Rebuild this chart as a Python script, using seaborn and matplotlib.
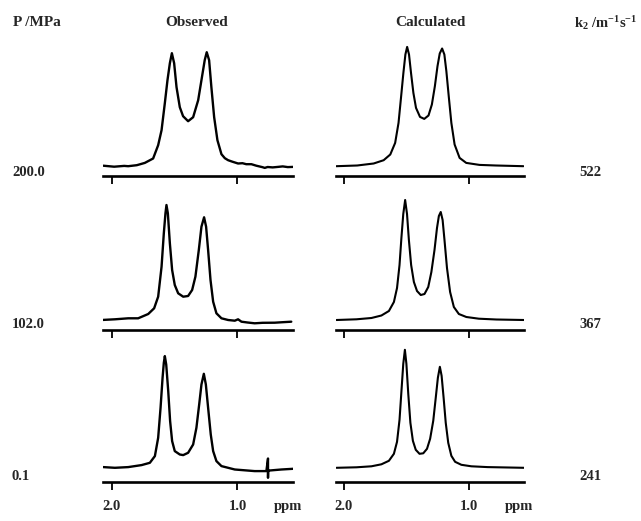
import matplotlib
matplotlib.use("Agg")
import matplotlib.pyplot as plt
import seaborn as sns

# Row labels / column titles
pressures = ["200.0", "102.0", "0.1"]
k2_values = ["522", "367", "241"]
col_titles = ["Observed", "Calculated"]
ppm_ticks = [2.0, 1.0]
ppm_tick_labels = ["2.0", "1.0"]

# Observed spectra (ppm, intensity)
obs_200_ppm = [2.066, 1.98, 1.90, 1.868, 1.80, 1.736, 1.670, 1.630, 1.603, 1.577, 1.556, 1.537,
               1.521, 1.503, 1.484, 1.458, 1.432, 1.392, 1.352, 1.312, 1.286, 1.260, 1.244,
               1.225, 1.207, 1.185, 1.159, 1.127, 1.100, 1.074, 1.040, 0.995, 0.960, 0.930,
               0.889, 0.850, 0.800, 0.783, 0.760, 0.720, 0.678, 0.640, 0.600, 0.559]
obs_200_int = [0.5, -0.5, 0.3, 0.0, 1.0, 3.3, 7.7, 21, 36, 63, 86, 103,
               113, 103, 79, 59, 50, 45, 49, 66, 86, 106, 114,
               106, 79, 49, 26, 12, 8, 6, 4.5, 2.7, 3.0, 2.0,
               2.0, 0.5, -1.0, -1.7, -0.8, -1.2, -0.7, -0.2, -0.9, -0.7]

obs_102_ppm = [2.080, 2.02, 1.974, 1.92, 1.868, 1.789, 1.709, 1.662, 1.630, 1.603, 1.585, 1.572,
               1.564, 1.553, 1.537, 1.519, 1.498, 1.471, 1.431, 1.392, 1.360, 1.334, 1.307,
               1.286, 1.265, 1.249, 1.233, 1.214, 1.193, 1.167, 1.127, 1.074, 1.021, 0.995,
               0.968, 0.920, 0.863, 0.800, 0.704, 0.640, 0.572]
obs_102_int = [0.0, 0.4, 0.7, 1.2, 1.7, 1.7, 6, 11.7, 23.3, 53.3, 86.7, 106.7,
               115, 106.7, 76.7, 50, 35, 26.7, 23.3, 24, 30, 43.3, 70,
               93.3, 102.7, 93.3, 70, 40, 18.3, 6.7, 1.7, 0.0, -0.7, 0.7,
               -1.7, -2.5, -3.3, -2.8, -2.7, -2.2, -1.7]

obs_01_ppm = [2.066, 1.974, 1.868, 1.762, 1.696, 1.656, 1.630, 1.611, 1.595, 1.585, 1.577,
              1.566, 1.550, 1.535, 1.519, 1.498, 1.458, 1.431, 1.392, 1.352, 1.326, 1.304,
              1.286, 1.267, 1.251, 1.233, 1.212, 1.193, 1.167, 1.127, 1.021, 0.863, 0.770,
              0.757, 0.757, 0.756, 0.744, 0.651, 0.558]
obs_01_int = [0.7, 0.0, 0.7, 2.7, 5, 11.7, 30, 60, 90, 105, 111.7,
              103.3, 76.7, 46.7, 26.7, 16.7, 13.3, 12.7, 15, 23.3, 40, 63.3,
              83.3, 94, 83.3, 60, 33.3, 16.7, 6.7, 1.7, -1.7, -3.3, -3.3,
              9.3, -10, -2.7, -2.7, -1.7, -1.0]

# Calculated spectra (ppm, intensity)
calc_522_ppm = [2.061, 1.894, 1.762, 1.682, 1.629, 1.590, 1.563, 1.542, 1.524, 1.508, 1.494,
                1.479, 1.463, 1.444, 1.423, 1.391, 1.357, 1.323, 1.296, 1.272, 1.251, 1.233,
                1.214, 1.196, 1.180, 1.161, 1.140, 1.114, 1.074, 1.021, 0.915, 0.783, 0.563]
calc_522_int = [0, 0.7, 2.7, 6, 11.7, 23.3, 43.3, 70, 93.3, 111.7, 119.3,
                111.7, 93.3, 73.3, 58.3, 49.3, 47.3, 50.7, 61.7, 80, 100, 112.7,
                117.7, 111.7, 95, 70, 43.3, 21.7, 8.3, 3.3, 1.3, 0.7, 0]

calc_367_ppm = [2.06, 1.90, 1.78, 1.70, 1.64, 1.60, 1.575, 1.555, 1.540, 1.525, 1.510, 1.495,
                1.480, 1.462, 1.440, 1.415, 1.385, 1.355, 1.325, 1.300, 1.275, 1.255, 1.240,
                1.225, 1.210, 1.195, 1.175, 1.150, 1.120, 1.080, 1.020, 0.920, 0.780, 0.560]
calc_367_int = [0, 0.7, 2, 4.5, 9, 18, 32, 55, 82, 106, 120, 106,
                80, 55, 38, 29, 25, 26, 33, 48, 70, 92, 104,
                108, 100, 80, 52, 28, 13, 6, 3, 1.3, 0.5, 0]

calc_241_ppm = [2.06, 1.90, 1.78, 1.70, 1.64, 1.60, 1.575, 1.555, 1.540, 1.525, 1.512, 1.500,
                1.485, 1.468, 1.448, 1.425, 1.395, 1.365, 1.335, 1.310, 1.285, 1.265, 1.248,
                1.232, 1.218, 1.202, 1.185, 1.165, 1.140, 1.110, 1.060, 0.980, 0.850, 0.560]
calc_241_int = [0, 0.5, 1.5, 3.5, 7, 14, 26, 48, 76, 104, 118, 104,
                74, 45, 27, 18, 14, 14.5, 19, 29, 47, 70, 90,
                101, 92, 70, 45, 25, 12, 6, 3, 1.5, 0.7, 0]

observed = [(obs_200_ppm, obs_200_int), (obs_102_ppm, obs_102_int), (obs_01_ppm, obs_01_int)]
calculated = [(calc_522_ppm, calc_522_int), (calc_367_ppm, calc_367_int), (calc_241_ppm, calc_241_int)]

sns.set_style("white")
plt.rcParams['font.family'] = ['Liberation Serif', 'DejaVu Serif']
plt.rcParams['font.weight'] = 'bold'
plt.rcParams['mathtext.fontset'] = 'custom'
plt.rcParams['mathtext.rm'] = 'Liberation Serif:bold'
plt.rcParams['mathtext.bf'] = 'Liberation Serif:bold'
plt.rcParams['mathtext.it'] = 'Liberation Serif:bold'

W, H = 641, 521
fig = plt.figure(figsize=(W / 100, H / 100), dpi=100)

col_x = [(103.3, 190.0), (335.7, 188.6)]   # left, width in px
row_axis_y = [176.2, 330.0, 482.3]         # axis line position in px
row_gap = [10, 10, 14.5]                   # px between baseline and axis line
ax_h = 140


def fx(px):
    return px / W


def fy(py):
    return 1 - py / H


for r in range(3):
    for c, spectra in enumerate([observed, calculated]):
        left, width = col_x[c]
        ax = fig.add_axes([fx(left), fy(row_axis_y[r]), width / W, ax_h / H])
        x, y = spectra[r]
        sns.lineplot(x=x, y=y, ax=ax, color='black', sort=False, estimator=None,
                     linewidth=1.7 if c == 0 else 1.5)
        ax.set_xlim(2.066, 0.556)
        ax.set_ylim(-row_gap[r], ax_h - row_gap[r])
        for s in ['left', 'top', 'right']:
            ax.spines[s].set_visible(False)
        ax.spines['bottom'].set_linewidth(1.9)
        ax.spines['bottom'].set_color('black')
        ax.set_yticks([])
        ax.set_xticks(ppm_ticks)
        ax.tick_params(axis='x', direction='out', length=6, width=1.3, color='black',
                       bottom=True, pad=7, labelsize=10.5)
        ax.set_xlabel('')
        ax.set_ylabel('')
        if r == 2:
            ax.set_xticklabels(ppm_tick_labels, fontweight='bold')
            ax.annotate('ppm', xy=(0.6, 0), xycoords=('data', 'axes fraction'),
                        xytext=(0, -13), textcoords='offset points',
                        ha='center', va='top', fontsize=10.5, fontweight='bold')
        else:
            ax.set_xticklabels([])

# headings
fig.text(fx(13), fy(23), "P /MPa", ha='left', va='center', fontsize=11, fontweight='bold')
fig.text(fx(197), fy(23), col_titles[0], ha='center', va='center', fontsize=11, fontweight='bold')
fig.text(fx(430), fy(23), col_titles[1], ha='center', va='center', fontsize=11, fontweight='bold')
fig.text(fx(574), fy(23), r"k$_{2}$ /m$^{-1}$s$^{-1}$", ha='left', va='center',
         fontsize=10.5, fontweight='bold')

label_y = [173, 325, 477]
for r in range(3):
    fig.text(fx(12), fy(label_y[r]), pressures[r], ha='left', va='center',
             fontsize=10.5, fontweight='bold')
    fig.text(fx(579), fy(label_y[r]), k2_values[r], ha='left', va='center',
             fontsize=10.5, fontweight='bold')

plt.savefig("out.png", dpi=100)
